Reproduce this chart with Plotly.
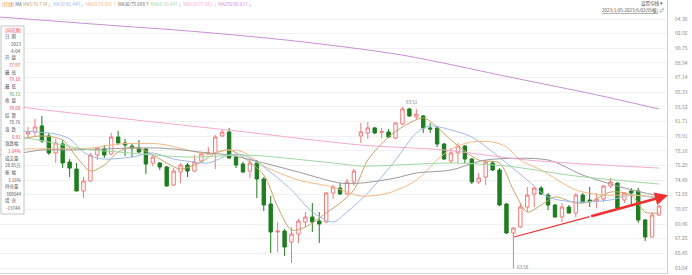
import plotly.graph_objects as go

W, H = 692, 275

# ---------------- data ----------------
idx = list(range(92))
opens = [80.17, 80.42, 81.17, 79.93, 77.83, 78.94, 76.71, 75.85, 73.14, 74.37,
         77.58, 78.32, 77.70, 79.80, 79.06, 78.69, 78.44, 78.32, 76.59, 76.59,
         76.10, 73.88, 75.48, 76.34, 75.60, 76.84, 77.70, 77.83, 79.93, 80.42,
         77.33, 76.47, 75.60, 76.59, 74.62, 71.53, 68.08, 68.20, 66.85, 67.83,
         69.31, 69.93, 69.44, 69.31, 72.89, 73.51, 72.77, 74.25, 79.93, 80.30,
         80.92, 80.40, 80.42, 79.68, 81.41, 83.26, 82.28, 82.40, 80.92, 80.92,
         78.94, 76.84, 77.83, 78.69, 77.08, 74.25, 74.86, 76.59, 75.73, 71.53,
         67.96, 68.70, 71.16, 72.77, 73.51, 72.64, 71.41, 69.93, 71.16, 70.42,
         72.64, 72.03, 71.90, 72.15, 73.75, 74.12, 72.03, 73.14, 73.14, 69.56,
         67.46, 70.18]
highs = [81.04, 82.03, 82.40, 80.30, 79.56, 79.43, 77.08, 76.59, 74.86, 77.83,
         78.57, 78.81, 80.30, 80.55, 79.56, 79.06, 79.43, 78.44, 77.58, 76.71,
         76.22, 75.97, 76.59, 76.59, 77.58, 77.83, 78.57, 80.05, 80.79, 80.92,
         77.58, 76.71, 77.08, 76.96, 74.86, 72.52, 69.31, 68.45, 68.70, 69.68,
         70.55, 71.66, 70.55, 73.01, 73.88, 74.12, 74.62, 75.85, 81.54, 81.66,
         81.04, 80.92, 80.79, 81.60, 83.51, 83.39, 83.26, 82.52, 81.54, 81.04,
         79.06, 78.44, 79.06, 78.81, 77.21, 75.36, 76.96, 76.84, 75.97, 71.66,
         68.70, 71.66, 73.63, 73.63, 73.75, 72.89, 71.53, 71.66, 71.41, 72.89,
         72.89, 73.63, 72.89, 73.88, 74.74, 74.25, 73.01, 73.51, 73.51, 69.68,
         70.55, 71.41]
lows = [79.56, 79.93, 79.06, 77.58, 76.59, 75.97, 74.86, 73.10, 72.27, 74.25,
        76.96, 77.21, 77.58, 78.81, 77.45, 77.33, 77.83, 75.23, 76.22, 75.73,
        73.70, 73.75, 74.12, 74.86, 75.48, 76.59, 77.58, 75.85, 79.80, 77.08,
        75.97, 75.36, 74.74, 72.27, 70.67, 65.49, 65.61, 65.12, 64.26, 66.72,
        68.70, 68.08, 66.72, 69.19, 72.15, 72.64, 72.64, 73.75, 79.06, 79.56,
        80.17, 79.68, 79.68, 79.56, 81.29, 82.28, 82.03, 80.30, 80.30, 78.57,
        76.96, 76.59, 76.59, 76.59, 74.00, 74.00, 73.88, 75.60, 71.29, 67.83,
        63.58, 68.57, 70.55, 71.16, 72.64, 70.79, 69.90, 69.31, 70.40, 69.93,
        71.66, 71.16, 71.04, 71.78, 73.51, 70.79, 71.66, 71.41, 69.19, 66.97,
        67.40, 70.05]
closes = [80.42, 81.04, 79.31, 77.83, 79.06, 76.59, 75.97, 73.14, 74.37, 77.58,
          78.44, 77.58, 79.80, 79.06, 78.81, 78.44, 77.95, 76.47, 77.33, 76.10,
          73.75, 75.60, 76.34, 75.60, 76.71, 77.70, 77.83, 79.80, 80.42, 77.21,
          76.34, 75.48, 76.59, 74.62, 71.41, 68.08, 68.20, 66.23, 67.83, 69.44,
          69.93, 69.31, 69.07, 72.89, 73.63, 72.77, 74.25, 75.60, 80.42, 80.92,
          80.30, 80.45, 79.80, 81.54, 83.26, 82.40, 82.64, 80.92, 80.79, 78.94,
          77.08, 77.83, 78.69, 77.08, 74.25, 74.74, 76.71, 75.73, 71.41, 67.96,
          68.57, 71.16, 72.64, 73.51, 72.77, 71.41, 69.93, 71.16, 70.42, 72.64,
          71.78, 71.90, 72.15, 73.75, 74.25, 71.04, 72.89, 72.89, 69.56, 67.46,
          70.18, 71.29]

# moving averages (candle index, value)
ma5_x = [-1, 2, 5, 7, 9, 11, 13, 15, 17, 20, 22, 25, 27, 29, 31, 34, 36, 38, 40,
         43, 45, 47, 49, 52, 54, 57, 59, 61, 65, 68, 70, 72, 74, 76, 79, 81, 84,
         87, 89, 91]
ma5_v = [79.56, 79.93, 79.43, 77.33, 75.60, 76.34, 77.95, 78.57, 78.07, 76.59,
         75.85, 76.71, 77.83, 78.20, 77.33, 75.11, 71.20, 68.33, 68.70, 70.42,
         71.66, 73.26, 76.96, 79.80, 81.04, 82.15, 81.04, 79.43, 76.96, 76.59,
         73.26, 70.55, 71.41, 72.40, 71.66, 71.78, 73.01, 72.64, 70.55, 70.42]
ma10_x = [-1, 4, 6, 8, 9, 11, 15, 18, 21, 24, 26, 29, 31, 34, 38, 41, 44, 46, 49,
          53, 56, 58, 61, 64, 69, 72, 75, 79, 84, 87, 91]
ma10_v = [80.55, 80.17, 79.56, 77.95, 77.45, 77.08, 77.33, 77.83, 77.08, 76.71,
          76.59, 77.58, 77.58, 76.10, 73.26, 70.55, 69.31, 70.55, 72.89, 76.96,
          80.30, 81.17, 80.67, 79.80, 76.59, 74.49, 72.40, 71.78, 72.03, 72.64,
          72.20]
ma20_x = [-4, -1, 9, 13, 19, 23, 26, 29, 31, 34, 39, 44, 48, 52, 56, 59, 61, 64,
          67, 69, 71, 74, 79, 83, 87, 91]
ma20_v = [78.20, 78.32, 78.44, 78.94, 78.94, 78.20, 77.70, 78.20, 77.95, 76.22,
          74.49, 73.63, 72.52, 72.89, 74.49, 76.96, 78.32, 79.19, 79.19, 78.57,
          76.96, 75.73, 73.26, 72.64, 72.64, 72.40]
ma30_x = [-4, -1, 2, 6, 19, 26, 29, 34, 39, 45, 48, 53, 56, 61, 66, 75, 80, 86, 91]
ma30_v = [77.60, 77.83, 78.20, 78.20, 78.44, 77.83, 77.58, 76.59, 75.48, 74.12,
          74.12, 74.74, 75.36, 75.73, 76.96, 76.96, 75.11, 73.51, 72.52]
ma60_x = [-4, -1, 3, 8, 13, 23, 31, 34, 44, 48, 53, 61, 69, 79, 91]
ma60_v = [80.20, 79.80, 79.19, 78.32, 77.95, 77.33, 77.58, 77.45, 76.59, 76.22,
          76.34, 76.59, 76.22, 74.99, 74.00]
ma120_x = [-4, -1, 15, 30, 48, 60, 72, 91]
ma120_v = [84.00, 83.51, 81.95, 80.55, 78.81, 78.20, 76.96, 75.97]
ma250_x = [-4, 10, 25, 39, 54, 70, 82, 91]
ma250_v = [94.60, 93.70, 92.75, 91.60, 89.90, 87.10, 85.00, 83.25]

ma_names = ["MA5", "MA10", "MA20", "MA30", "MA60", "MA120", "MA250"]
ma_colors = ["#c9a36a", "#9dbbe6", "#f5b784", "#9a9a9a", "#9fd89f", "#f6a9cf", "#c98fd6"]
legend_text = ["MA5:76.734↓", "MA10:80.445↓", "MA20:78.801↑", "MA30:75.698↑",
               "MA60:76.447↓", "MA120:77.981↓", "MA250:88.017↓"]

ytick_vals = [94.36, 92.56, 90.75, 88.94, 87.14, 85.33, 83.52, 81.71, 79.91, 78.10,
              76.29, 74.48, 72.68, 70.87, 69.06, 67.25, 65.45, 63.64]

# trend line drawn on the chart (index, price)
trend_x = [70.1, 81.0, 92.3]
trend_y = [67.46, 69.98, 72.60]
low_label = "63.58"
high_label = "83.51"

# info panel
panel_rows = [("日  期", None, None), (None, "2023", "#555"), (None, "4/04", "#555"),
              ("开  盘", None, None), (None, "77.97", "#e84040"),
              ("最  高", None, None), (None, "79.18", "#e84040"),
              ("最  低", None, None), (None, "76.72", "#2a9a2a"),
              ("收  盘", None, None), (None, "78.68", "#e84040"),
              ("结  算", None, None), (None, "78.76", "#555"),
              ("涨  跌", None, None), (None, "0.81", "#e84040"),
              ("涨跌幅", None, None), (None, "1.04%", "#e84040"),
              ("成交量", None, None), (None, "28.85万", "#555"),
              ("振  幅", None, None), (None, "3.16%", "#555"),
              ("持仓量", None, None), (None, "388044", "#555"),
              ("增  仓", None, None), (None, "-13744", "#555")]

# ---------------- layout helpers ----------------
PX_TOP_PRICE = 96.704
PX_BOT_PRICE = 63.023
X0, X1 = -4.04, 92.15
AX_RIGHT = 667


def xp(px):
    return px / W


def yp(py):
    return 1 - py / H


FONT = "Noto Sans CJK SC, Noto Sans, sans-serif"

fig = go.Figure()

for name, col, xs, vs in zip(ma_names, ma_colors,
                             [ma5_x, ma10_x, ma20_x, ma30_x, ma60_x, ma120_x, ma250_x],
                             [ma5_v, ma10_v, ma20_v, ma30_v, ma60_v, ma120_v, ma250_v]):
    fig.add_trace(go.Scatter(x=xs, y=vs, mode="lines", name=name,
                             line=dict(color=col, width=1, shape="spline", smoothing=0.8),
                             hoverinfo="skip"))

fig.add_trace(go.Candlestick(
    x=idx, open=opens, high=highs, low=lows, close=closes,
    increasing=dict(line=dict(color="#f07a7a", width=1), fillcolor="#ffffff"),
    decreasing=dict(line=dict(color="#1f7d1f", width=1), fillcolor="#1f7d1f"),
    whiskerwidth=0, name="K"))

# trend line
fig.add_trace(go.Scatter(x=trend_x[:2], y=trend_y[:2], mode="lines",
                         line=dict(color="#f03030", width=1.2), hoverinfo="skip"))
fig.add_annotation(x=trend_x[2], y=trend_y[2], ax=trend_x[1], ay=trend_y[1],
                   xref="x", yref="y", axref="x", ayref="y", text="",
                   showarrow=True, arrowhead=2, arrowsize=1, arrowwidth=2.6,
                   arrowcolor="#f03030")
# low / high labels
li = lows.index(min(lows))
fig.add_annotation(x=idx[li], y=lows[li], text=low_label, showarrow=False,
                   xanchor="left", yanchor="middle", xshift=2, yshift=1,
                   font=dict(size=4.5, color="#777", family=FONT))
hi = highs.index(max(highs))
fig.add_annotation(x=idx[hi], y=highs[hi], text=high_label, showarrow=False,
                   xanchor="left", yanchor="bottom", xshift=2,
                   font=dict(size=4.5, color="#777", family=FONT))

fig.update_layout(
    width=W, height=H, margin=dict(l=0, r=0, t=0, b=0),
    paper_bgcolor="white", plot_bgcolor="white", showlegend=False,
    xaxis=dict(range=[X0, X1], domain=[0, AX_RIGHT / W], showgrid=False,
               showticklabels=False, zeroline=False, rangeslider=dict(visible=False),
               showline=True, linecolor="#d8d8d8", linewidth=1, ticks=""),
    yaxis=dict(range=[PX_BOT_PRICE, PX_TOP_PRICE], domain=[2 / H, 1], side="right",
               tickvals=ytick_vals, ticktext=[f"{v:.2f}" for v in ytick_vals],
               tickfont=dict(size=5, color="#8a8a8a", family=FONT),
               showgrid=True, gridcolor="#f1f1f1", gridwidth=1, zeroline=False,
               showline=True, linecolor="#cfcfcf", linewidth=1, ticks="",
               ticklabelstandoff=6),
)

# top legend row (one text, coloured pieces)
parts = ['<span style="color:#f08040">(日线)</span>', '<span style="color:#666">MA</span>']
for t, c in zip(legend_text, ma_colors):
    parts.append(f'<span style="color:{c if c != "#9a9a9a" else "#666"}">{t}</span>')
fig.add_annotation(x=xp(0), y=yp(4.5), xref="paper", yref="paper",
                   text=" ".join(parts), showarrow=False, xanchor="left",
                   yanchor="middle", font=dict(size=4.6, family=FONT))

# top-right controls
fig.add_annotation(x=xp(665), y=yp(4), xref="paper", yref="paper", text="设置均线 ▾",
                   showarrow=False, xanchor="right", yanchor="middle",
                   font=dict(size=4.5, color="#555", family=FONT))
fig.add_annotation(x=xp(666), y=yp(10.5), xref="paper", yref="paper",
                   text="<u>2023/1/05-2023/6/02(95根)</u> ⇄",
                   showarrow=False, xanchor="right", yanchor="middle",
                   font=dict(size=4.5, color="#555", family=FONT))

# info panel
fig.add_shape(type="rect", xref="paper", yref="paper", x0=xp(1), x1=xp(24),
              y0=yp(214), y1=yp(26), line=dict(color="#c4c4c4", width=1),
              fillcolor="rgba(255,255,255,0.92)", layer="above")
fig.add_annotation(x=xp(3), y=yp(30), xref="paper", yref="paper", text="[同花顺]",
                   showarrow=False, xanchor="left", yanchor="middle",
                   font=dict(size=4.5, color="#e84040", family=FONT))
py = 36.5
for lab, val, col in panel_rows:
    if lab is not None:
        fig.add_annotation(x=xp(3), y=yp(py), xref="paper", yref="paper", text=lab,
                           showarrow=False, xanchor="left", yanchor="middle",
                           font=dict(size=4.5, color="#555", family=FONT))
    else:
        fig.add_annotation(x=xp(23), y=yp(py), xref="paper", yref="paper", text=val,
                           showarrow=False, xanchor="right", yanchor="middle",
                           font=dict(size=4.5, color=col, family=FONT))
    py += 7.15

fig.write_html("out.html")
